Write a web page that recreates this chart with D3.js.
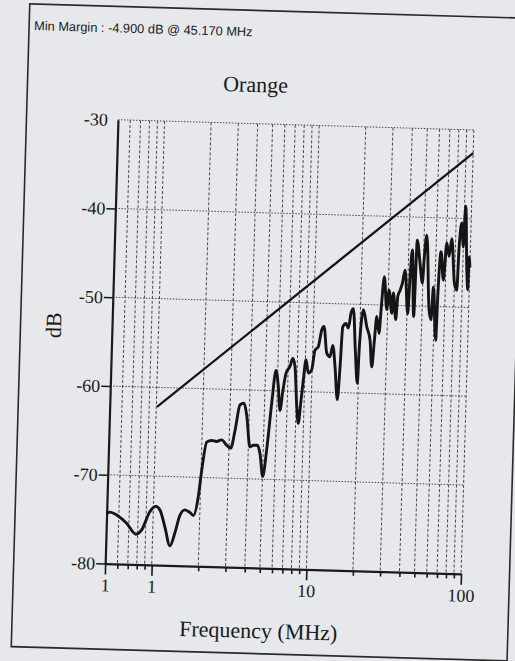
<!DOCTYPE html>
<html>
<head>
<meta charset="utf-8">
<script src="https://cdn.jsdelivr.net/npm/d3@7/dist/d3.min.js"></script>
<style>
    html, body { margin: 0; padding: 0; background: #e6e8ec; overflow: hidden; }
    svg { display: block; }
</style>
</head>
<body>
<div id="chart"></div>
<script>
// measured trace (MHz / dB)
var freq = [0.5, 0.525, 0.581, 0.676, 0.78, 0.848, 0.952, 1.038, 1.104, 1.197,
    1.30, 1.393, 1.49, 1.60, 1.73, 1.82, 1.94, 2.02, 2.15, 2.31,
    2.49, 2.68, 2.90, 3.08, 3.26, 3.47, 3.68, 3.85, 4.10, 4.30,
    4.57, 4.77, 5.02, 5.26, 5.56, 5.84, 6.09, 6.31, 6.52, 6.79,
    7.19, 7.46, 7.74, 8.08, 8.33, 8.56, 8.81, 9.09, 9.46, 9.94,
    10.35, 10.86, 11.34, 11.72, 12.34, 12.98, 13.45, 14.04, 14.74, 15.13,
    15.48, 16.23, 16.84, 17.42, 17.98, 18.86, 19.71, 19.99, 20.89, 22.13,
    23.37, 24.25, 24.93, 25.57, 26.65, 27.18, 28.14, 29.58, 30.36, 31.92,
    32.41, 33.97, 34.65, 35.76, 36.9, 38.19, 40.5, 41.26, 42.21, 44.3,
    45.17, 47.6, 49.7, 50.6, 51.96, 55.5, 57.4, 58.6, 62.1, 62.8,
    64.7, 67.8, 70.2, 73.1, 75.5, 80.0, 83.2, 84.5, 87.1, 90.0,
    91.5, 95.7, 97.9, 98.4, 100];
var level = [-74.4, -74.2, -74.5, -75.4, -76.6, -76.1, -74.0, -73.4, -73.8, -75.7,
    -77.8, -76.3, -74.3, -73.7, -74.0, -74.3, -72.2, -69.2, -66.0, -65.8,
    -65.9, -65.7, -66.3, -66.6, -64.6, -61.7, -61.5, -62.8, -66.4, -66.2,
    -66.2, -67.1, -69.7, -66.7, -61.4, -57.7, -59.5, -62.2, -60.1, -58.0,
    -57.2, -56.3, -57.2, -61.7, -63.6, -61.3, -58.7, -56.4, -57.9, -57.5,
    -55.3, -54.9, -53.0, -52.6, -55.6, -56.0, -54.7, -57.1, -60.8, -57.1,
    -52.6, -52.2, -52.7, -51.0, -50.5, -55.2, -58.9, -54.8, -50.6, -52.5,
    -54.0, -57.0, -54.0, -51.3, -53.2, -50.6, -46.8, -50.5, -48.3, -50.9,
    -48.6, -51.6, -49.0, -48.3, -47.5, -46.0, -50.9, -46.7, -43.7, -51.2,
    -42.6, -45.2, -47.4, -44.4, -42.0, -50.4, -51.5, -47.8, -53.8, -48.9,
    -43.8, -47.0, -42.8, -44.3, -42.3, -47.3, -48.1, -43.2, -40.5, -43.2,
    -38.6, -45.8, -48.0, -44.3, -45.5];

// limit line end points
var limitFreq = [1.01, 100];
var limitLevel = [-62.2, -32.6];

var yTicks = [-30, -40, -50, -60, -70, -80];
var yGrid = [-40, -50, -60, -70];
var xTickValues = [0.5, 1, 10, 100];
var xTickLabels = ['1', '1', '10', '100'];
var xMinor = [0.6, 0.7, 0.8, 0.9, 2, 3, 4, 5, 6, 7, 8, 9, 20, 30, 40, 50, 60, 70, 80, 90];
var xGrid = [0.6, 0.7, 0.8, 0.9, 1, 2, 3, 4, 5, 6, 7, 8, 9, 10, 20, 30, 40, 50, 60, 70, 80, 90, 100];

var titleText = 'Orange';
var marginText = 'Min Margin : -4.900 dB @ 45.170 MHz';

var width = 515, height = 661;
var plot = { left: 111.5, right: 467.5, top: 124.75, bottom: 568.75 };
var ink = '#1a1a1a';
var serif = '"Liberation Serif", "Times New Roman", serif';

var x = d3.scaleLog().domain([0.5, 100]).range([plot.left, plot.right]);
var y = d3.scaleLinear().domain([-80, -30]).range([plot.bottom, plot.top]);

var svg = d3.select('#chart')
    .append('svg')
    .attr('width', width)
    .attr('height', height);

// the scanned sheet sits a little askew
var page = svg.append('g')
    .attr('transform', 'rotate(1.65, 289.5, 346.75)');

page.append('rect')
    .attr('x', 20)
    .attr('y', 11.5)
    .attr('width', 496)
    .attr('height', 643)
    .attr('fill', 'none')
    .attr('stroke', '#2a2a2a')
    .attr('stroke-width', 1.6);

page.append('text')
    .attr('x', 25)
    .attr('y', 37.5)
    .attr('font-family', '"Liberation Sans", Arial, sans-serif')
    .attr('font-size', 12.8)
    .attr('fill', ink)
    .text(marginText);

page.append('text')
    .attr('x', 248)
    .attr('y', 93)
    .attr('text-anchor', 'middle')
    .attr('font-family', serif)
    .attr('font-size', 22)
    .attr('fill', ink)
    .text(titleText);

// grid
page.append('g')
    .selectAll('line')
    .data(xGrid)
    .enter()
    .append('line')
    .attr('x1', function (d) { return x(d); })
    .attr('x2', function (d) { return x(d); })
    .attr('y1', plot.top)
    .attr('y2', plot.bottom)
    .attr('stroke', '#3a3a3a')
    .attr('stroke-width', 0.9)
    .attr('stroke-dasharray', '3,2');

page.append('g')
    .selectAll('line')
    .data(yGrid.concat([-30]))
    .enter()
    .append('line')
    .attr('x1', plot.left)
    .attr('x2', plot.right)
    .attr('y1', function (d) { return y(d); })
    .attr('y2', function (d) { return y(d); })
    .attr('stroke', '#3a3a3a')
    .attr('stroke-width', 0.9)
    .attr('stroke-dasharray', '1.5,1.5');

// axes (plain hyphen for negatives, like the print)
var yAxis = page.append('g')
    .attr('transform', 'translate(' + plot.left + ',0)')
    .call(d3.axisLeft(y).tickValues(yTicks).tickSize(9).tickSizeOuter(0).tickPadding(1)
        .tickFormat(function (d) { return String(d); }));

var xAxis = page.append('g')
    .attr('transform', 'translate(0,' + plot.bottom + ')')
    .call(d3.axisBottom(x).tickValues(xTickValues).tickSize(11).tickSizeOuter(0).tickPadding(4)
        .tickFormat(function (d, i) { return xTickLabels[i]; }));

var xMinorAxis = page.append('g')
    .attr('transform', 'translate(0,' + plot.bottom + ')')
    .call(d3.axisBottom(x).tickValues(xMinor).tickSize(5).tickFormat(''));
xMinorAxis.select('.domain').remove();

yAxis.selectAll('.tick').filter(function (d) { return d === -30; }).select('line').remove();

[yAxis, xAxis].forEach(function (g) {
    g.select('.domain').attr('stroke', ink).attr('stroke-width', 2.2);
    g.selectAll('text')
        .attr('font-family', serif)
        .attr('font-size', 18)
        .attr('fill', ink);
});
[yAxis, xAxis, xMinorAxis].forEach(function (g) {
    g.selectAll('.tick line').attr('stroke', ink).attr('stroke-width', 1.6);
});

// limit + trace
var line = d3.line()
    .x(function (d) { return x(d[0]); })
    .y(function (d) { return y(d[1]); });

page.append('path')
    .datum(d3.zip(limitFreq, limitLevel))
    .attr('d', line)
    .attr('fill', 'none')
    .attr('stroke', '#151515')
    .attr('stroke-width', 2.3);

page.append('path')
    .datum(d3.zip(freq, level))
    .attr('d', line.curve(d3.curveMonotoneX))
    .attr('fill', 'none')
    .attr('stroke', '#151515')
    .attr('stroke-width', 2.9)
    .attr('stroke-linejoin', 'round');

// axis titles
page.append('text')
    .attr('x', 266.5)
    .attr('y', 639)
    .attr('text-anchor', 'middle')
    .attr('font-family', serif)
    .attr('font-size', 22)
    .attr('fill', ink)
    .text('Frequency (MHz)');

page.append('text')
    .attr('transform', 'translate(53,332) rotate(-90)')
    .attr('text-anchor', 'middle')
    .attr('dominant-baseline', 'central')
    .attr('font-family', serif)
    .attr('font-size', 22)
    .attr('fill', ink)
    .text('dB');
</script>
</body>
</html>
